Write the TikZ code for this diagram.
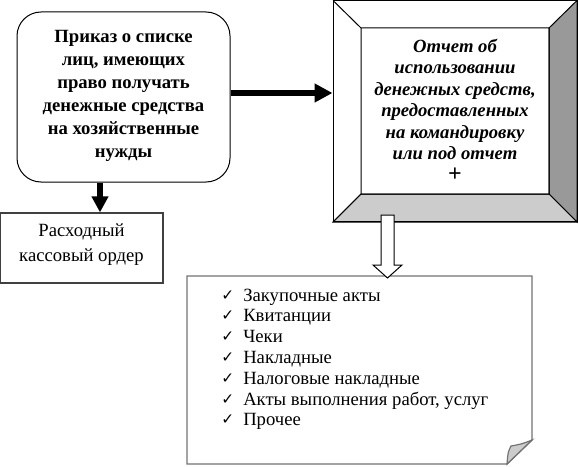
\documentclass[tikz,border=0pt]{standalone}
\usepackage{fontspec}
\setmainfont{Liberation Serif}
\newfontfamily\symf{DejaVu Sans}
\usetikzlibrary{arrows.meta,calc}
\begin{document}
\begin{tikzpicture}[x=0.75pt,y=-0.75pt,
  txt/.style={inner sep=0pt, align=center, font=\fontsize{14}{17.25}\selectfont},
  thickarrow/.style={line width=4.5pt, -{Triangle[length=13.5pt,width=13.5pt]}},
  thickarrowb/.style={line width=4.5pt, -{Triangle[length=12pt,width=12pt]}},
  itemtxt/.style={inner sep=0pt, anchor=base west, font=\fontsize{14}{15}\selectfont},
  chk/.style={inner sep=0pt, anchor=base west, font=\symf\fontsize{11.5}{12}\selectfont}
]
\useasboundingbox (0,0) rectangle (578,467);
% rounded box
\node[draw, line width=0.75pt, rounded corners=18pt, minimum width=159.75pt, minimum height=127.5pt, inner sep=0pt] (prikaz) at (123.5,97) {};
\node[txt, font=\bfseries\fontsize{14}{17.25}\selectfont] (prikaztxt) at (123.5,95.5) {Приказ о списке\\лиц, имеющих\\право получать\\денежные средства\\на хозяйственные\\нужды};
% rashod box
\node[draw=black!75, line width=0.9pt, minimum width=122.25pt, minimum height=52.5pt, inner sep=0pt] (rashod) at (81.5,248) {};
\node[txt, font=\fontsize{14}{18.75}\selectfont] (rashodtxt) at (81.5,245) {Расходный\\кассовый ордер};
% bevel box
\coordinate (o1) at (333,0.5);
\coordinate (o2) at (577,0.5);
\coordinate (o3) at (577,222);
\coordinate (o4) at (333,222);
\coordinate (i1) at (361,28);
\coordinate (i2) at (549,28);
\coordinate (i3) at (549,194);
\coordinate (i4) at (361,194);
\fill[white] (o1)--(o2)--(o3)--(o4)--cycle;
\filldraw[fill=black!40, line width=0.75pt] (o2)--(o3)--(i3)--(i2)--cycle;
\filldraw[fill=black!20, line width=0.75pt] (o4)--(o3)--(i3)--(i4)--cycle;
\draw[line width=0.75pt] (o1)--(i1) (i1)--(i2)--(i3)--(i4)--cycle (o4)--(i4);
\node[draw, line width=0.75pt, minimum width=183pt, minimum height=166.1pt, inner sep=0pt] (bevel) at (455,111.25) {};
\node[txt, font=\bfseries\itshape\fontsize{14}{16.1}\selectfont] (beveltxt) at (455,110) {Отчет об\\использовании\\денежных средств,\\предоставленных\\на командировку\\или под отчет\\{\fontsize{18}{16.1}\selectfont\upshape\bfseries +}};
% arrows
\coordinate (ay) at (0,93);
\draw[thickarrow] (prikaz.east |- ay) -- (bevel.west |- ay);
\coordinate (ax) at (100,0);
\draw[thickarrowb] (prikaz.south -| ax) -- (rashod.north -| ax);
% list box with folded corner
\coordinate (l1) at (187,276);
\coordinate (l2) at (532,276);
\coordinate (l3) at (532,440);
\coordinate (l4) at (507,464);
\coordinate (l5) at (187,464);
\coordinate (lf) at (511,446);
\filldraw[fill=white, draw=black!55, line width=1.1pt] (l1)--(l2)--(l3)--(l4)--(l5)--cycle;
\filldraw[fill=black!20, draw=black!55, line width=0.9pt] (l3) .. controls (522,444) .. (lf) .. controls (508,452) .. (l4) -- cycle;
\node[inner sep=0pt, minimum width=258.75pt, minimum height=141pt] (list) at (359.5,370) {};
% hollow arrow from bevel to list
\coordinate (h0) at (387.5,215);
\coordinate (htip) at (387.5,278);
\filldraw[fill=white, draw=black, line width=0.75pt]
  ($(h0)+(-6.5,0)$) -- ($(h0)+(6.5,0)$) -- ($(htip)+(6.5,-13)$) -- ($(htip)+(14.5,-13)$) -- (htip)
  -- ($(htip)+(-14.5,-13)$) -- ($(htip)+(-6.5,-13)$) -- cycle;
% list items
\foreach \t [count=\i] in {Закупочные акты,Квитанции,Чеки,Накладные,Налоговые накладные,{Акты выполнения работ, услуг},Прочее}{
  \node[chk] (chk\i) at (221,{300+(\i-1)*20.8}) {✓};
  \node[itemtxt] (item\i) at (243,{301+(\i-1)*20.8}) {\t};
}
\end{tikzpicture}
\end{document}
